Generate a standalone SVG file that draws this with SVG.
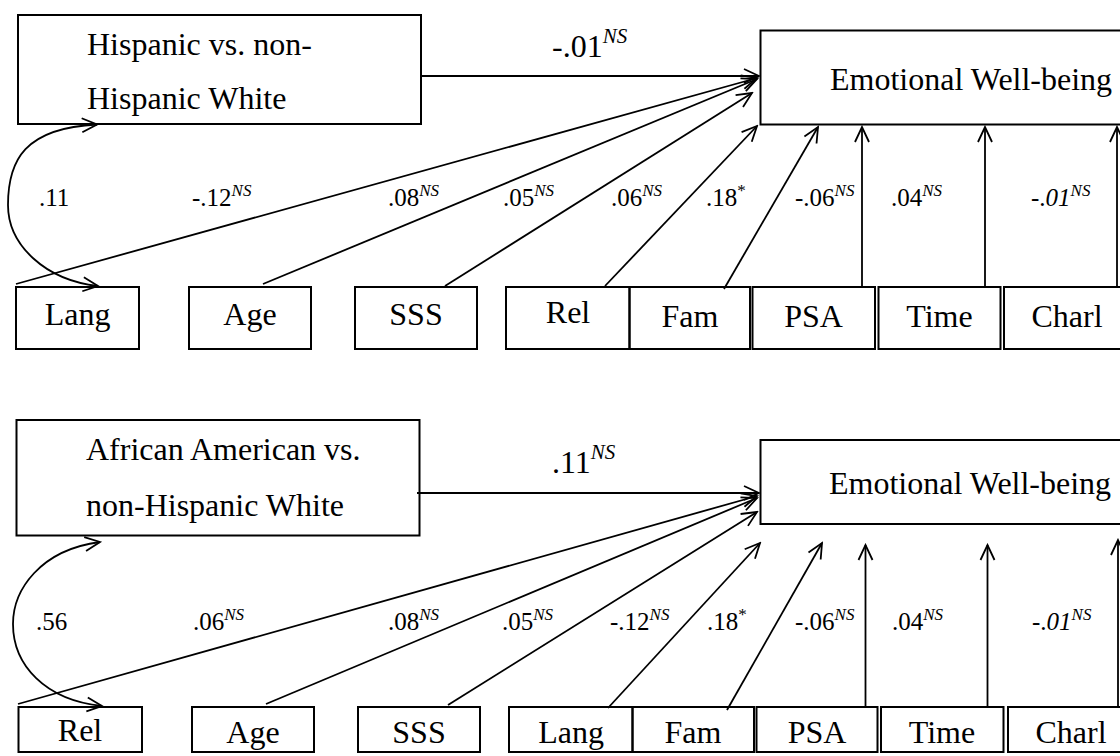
<svg xmlns="http://www.w3.org/2000/svg" width="1120" height="756" viewBox="0 0 1120 756">
<style>
.box{fill:none;stroke:#000;stroke-width:2}
.ln{fill:none;stroke:#000;stroke-width:1.8;marker-end:url(#ah)}
.cv{fill:none;stroke:#000;stroke-width:1.8;marker-start:url(#ah);marker-end:url(#ah)}
text{font-family:"Liberation Serif","Times New Roman",serif;fill:#000}
.big{font-size:32px}
.lbl{font-size:32px;text-anchor:middle}
.coef{font-size:25px}
.top{font-size:32px}
.it{font-style:italic}
</style>
<defs>
<marker id="ah" markerWidth="20" markerHeight="20" viewBox="-18 -10 20 20" refX="0" refY="0" orient="auto-start-reverse" markerUnits="userSpaceOnUse">
<path d="M-15,-7 L0,0 L-15,7" fill="none" stroke="#000" stroke-width="1.8"/>
</marker>
</defs>
<rect width="1120" height="756" fill="#fff"/>

<!-- ===== TOP MODEL ===== -->
<g id="hisp">
<rect class="box" x="18" y="15" width="403" height="109"/>
<text class="big" x="87" y="55">Hispanic vs. non-</text>
<text class="big" x="87" y="109">Hispanic White</text>
</g>
<g id="ew1">
<rect class="box" x="760.5" y="30.5" width="420" height="94"/>
<text class="big" x="830" y="90">Emotional Well-being</text>
</g>
<g id="t-lang"><rect class="box" x="16" y="287" width="123" height="62"/><text class="lbl" x="77.5" y="325">Lang</text></g>
<g id="t-age"><rect class="box" x="189" y="287" width="122" height="62"/><text class="lbl" x="250" y="325">Age</text></g>
<g id="t-sss"><rect class="box" x="355" y="287" width="122" height="62"/><text class="lbl" x="416" y="325">SSS</text></g>
<g id="t-rel"><rect class="box" x="506" y="287" width="123.5" height="62"/><text class="lbl" x="568" y="323">Rel</text></g>
<g id="t-fam"><rect class="box" x="629.5" y="287" width="120.5" height="62"/><text class="lbl" x="690" y="327">Fam</text></g>
<g id="t-psa"><rect class="box" x="752.5" y="287" width="122.5" height="62"/><text class="lbl" x="813.5" y="327">PSA</text></g>
<g id="t-time"><rect class="box" x="878.5" y="287" width="122" height="62"/><text class="lbl" x="939.5" y="327">Time</text></g>
<g id="t-charl"><rect class="box" x="1004" y="287" width="126" height="62"/><text class="lbl" x="1067" y="327">Charl</text></g>

<g id="connectors-top">
<line class="ln" x1="421" y1="76" x2="759" y2="76"/>
<path class="cv" d="M97,124.5 C25,128 8,160 8,205 C8,245 45,280 98,286"/>
<line class="ln" x1="16" y1="284" x2="757" y2="78"/>
<line class="ln" x1="263" y1="284" x2="757" y2="79"/>
<line class="ln" x1="445" y1="286" x2="752" y2="93"/>
<line class="ln" x1="605" y1="286" x2="757" y2="126"/>
<line class="ln" x1="724" y1="289" x2="818" y2="127"/>
<line class="ln" x1="862" y1="287" x2="862" y2="127"/>
<line class="ln" x1="985" y1="287" x2="985" y2="127"/>
<line class="ln" x1="1117" y1="287" x2="1117" y2="127"/>
</g>
<g id="labels-top">
<text class="top" x="552" y="57">-.01<tspan class="it" font-size="21" dy="-14">NS</tspan></text>
<text class="coef" x="39" y="206">.11</text>
<text class="coef" x="192" y="206">-.12<tspan class="it" font-size="17" dy="-10">NS</tspan></text>
<text class="coef" x="388" y="206">.08<tspan class="it" font-size="17" dy="-10">NS</tspan></text>
<text class="coef" x="503" y="206">.05<tspan class="it" font-size="17" dy="-10">NS</tspan></text>
<text class="coef" x="611" y="206">.06<tspan class="it" font-size="17" dy="-10">NS</tspan></text>
<text class="coef" x="706" y="206">.18<tspan font-size="17" dy="-10">*</tspan></text>
<text class="coef" x="795" y="206">-.06<tspan class="it" font-size="17" dy="-10">NS</tspan></text>
<text class="coef" x="891" y="206">.04<tspan class="it" font-size="17" dy="-10">NS</tspan></text>
<text class="coef" x="1031" y="206">-.<tspan class="it">01</tspan><tspan class="it" font-size="17" dy="-10">NS</tspan></text>
</g>

<!-- ===== BOTTOM MODEL ===== -->
<g id="afam">
<rect class="box" x="16.5" y="420" width="403" height="115.5"/>
<text class="big" x="86" y="460">African American vs.</text>
<text class="big" x="86" y="516">non-Hispanic White</text>
</g>
<g id="ew2">
<rect class="box" x="760.5" y="440" width="420" height="84"/>
<text class="big" x="829" y="494">Emotional Well-being</text>
</g>
<g id="b-rel"><rect class="box" x="18.5" y="707" width="123.5" height="45"/><text class="lbl" x="80" y="741">Rel</text></g>
<g id="b-age"><rect class="box" x="192" y="707" width="122" height="45"/><text class="lbl" x="253" y="743">Age</text></g>
<g id="b-sss"><rect class="box" x="358" y="707" width="122" height="45"/><text class="lbl" x="419" y="743">SSS</text></g>
<g id="b-lang"><rect class="box" x="509" y="707" width="123.5" height="45"/><text class="lbl" x="571" y="743">Lang</text></g>
<g id="b-fam"><rect class="box" x="632.5" y="707" width="121.5" height="45"/><text class="lbl" x="693" y="743">Fam</text></g>
<g id="b-psa"><rect class="box" x="756.5" y="707" width="121" height="45"/><text class="lbl" x="817" y="743">PSA</text></g>
<g id="b-time"><rect class="box" x="881" y="707" width="122.5" height="45"/><text class="lbl" x="942" y="743">Time</text></g>
<g id="b-charl"><rect class="box" x="1008" y="707" width="126" height="45"/><text class="lbl" x="1071" y="743">Charl</text></g>

<g id="connectors-bottom">
<line class="ln" x1="417" y1="493" x2="759" y2="493"/>
<path class="cv" d="M100,542 C40,550 13,590 13,624 C13,665 45,700 102,706"/>
<line class="ln" x1="18" y1="704" x2="757" y2="496"/>
<line class="ln" x1="266" y1="704" x2="757" y2="498"/>
<line class="ln" x1="448" y1="705" x2="757" y2="512"/>
<line class="ln" x1="608" y1="708" x2="760" y2="543"/>
<line class="ln" x1="727" y1="710" x2="822" y2="543"/>
<line class="ln" x1="865.5" y1="707" x2="865.5" y2="545"/>
<line class="ln" x1="987.5" y1="707" x2="987.5" y2="545"/>
<line class="ln" x1="1118" y1="707" x2="1118" y2="540"/>
</g>
<g id="labels-bottom">
<text class="top" x="552" y="473">.11<tspan class="it" font-size="21" dy="-14">NS</tspan></text>
<text class="coef" x="36" y="630">.56</text>
<text class="coef" x="193" y="630">.06<tspan class="it" font-size="17" dy="-10">NS</tspan></text>
<text class="coef" x="388" y="630">.08<tspan class="it" font-size="17" dy="-10">NS</tspan></text>
<text class="coef" x="502" y="630">.05<tspan class="it" font-size="17" dy="-10">NS</tspan></text>
<text class="coef" x="610" y="630">-.12<tspan class="it" font-size="17" dy="-10">NS</tspan></text>
<text class="coef" x="707" y="630">.18<tspan font-size="17" dy="-10">*</tspan></text>
<text class="coef" x="795" y="630">-.06<tspan class="it" font-size="17" dy="-10">NS</tspan></text>
<text class="coef" x="892" y="630">.04<tspan class="it" font-size="17" dy="-10">NS</tspan></text>
<text class="coef" x="1032" y="630">-.<tspan class="it">01</tspan><tspan class="it" font-size="17" dy="-10">NS</tspan></text>
</g>
</svg>
